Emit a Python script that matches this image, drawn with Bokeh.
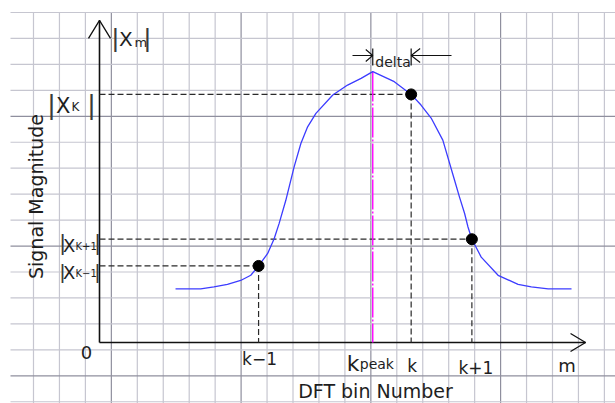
import numpy as np
from bokeh.plotting import figure
from bokeh.models import Range1d
from bokeh.core.properties import value
from bokeh.embed import file_html
from bokeh.resources import INLINE

# ---------------- data (grid units, origin at the axes corner) ----------------
curve_x = [2.93, 3.90, 4.41, 4.93, 5.44, 5.83, 6.13, 6.48, 6.73, 6.92, 7.18, 7.50,
           7.76, 8.02, 8.34, 8.99, 9.56, 10.08, 10.53, 11.36, 12.01, 12.39, 12.78,
           13.23, 13.68, 13.87, 14.07, 14.20, 14.35, 14.71, 15.36, 16.13, 16.64,
           17.29, 18.19]
curve_y = [2.07, 2.07, 2.14, 2.24, 2.39, 2.59, 2.95, 3.43, 4.00, 4.58, 5.48, 6.77,
           7.67, 8.31, 8.83, 9.54, 9.92, 10.18, 10.44, 10.05, 9.56, 9.15, 8.65,
           7.80, 6.26, 5.61, 4.97, 4.45, 3.98, 3.29, 2.59, 2.24, 2.14, 2.07, 2.07]
sample_x = [6.13, 12.01, 14.35]          # k-1, k, k+1
sample_y = [2.95, 9.56, 3.98]
sample_labels = ["k\u22121", "k", "k+1"]
kpeak_x = 10.53
peak_y = 10.44
x_axis_end = 18.73
y_axis_end = 12.41

# ---------------- layout helpers (reference pixel -> data units) ----------------
W, H = 615, 403
G = 25.95          # pixels per grid unit
OX, OY = 99.0, 342.0
def u(px): return (px - OX) / G
def v(py): return (OY - py) / G
def dx(px): return px / G

FONT = "DejaVu Sans"
TXT = "#1e1e1e"

p = figure(width=W, height=H, x_range=Range1d(u(0), u(W)), y_range=Range1d(v(H), v(0)),
           output_backend="svg", toolbar_location=None, x_axis_type=None, y_axis_type=None,
           min_border=0, background_fill_color="white", border_fill_color="white")
p.grid.visible = False
p.outline_line_color = None

# ---------------- grid paper ----------------
gx = [u(33 + G * i) for i in range(0, 23)]
gy = [v(12 + G * j) for j in range(0, 16)]
gx_col = ["#8f8f9e" if (i - 3) % 5 == 0 else "#c6c6d0" for i in range(0, 23)]
gy_col = ["#8f8f9e" if (j - 4) % 5 == 0 else "#c6c6d0" for j in range(0, 16)]
p.segment(x0=gx, y0=[v(12)] * len(gx), x1=gx, y1=[v(H + 5)] * len(gx), line_color=gx_col, line_width=1.2)
p.segment(x0=[u(10)] * len(gy), y0=gy, x1=[u(W + 5)] * len(gy), y1=gy, line_color=gy_col, line_width=1.2)

# ---------------- axes with open arrowheads ----------------
p.line([0, 0], [0, y_axis_end], line_color="#111111", line_width=1.6)
p.line([0, x_axis_end], [0, 0], line_color="#111111", line_width=1.6)
p.line([-dx(11), 0, dx(11)], [y_axis_end - dx(18), y_axis_end, y_axis_end - dx(18)],
       line_color="#111111", line_width=1.3)
p.line([x_axis_end - dx(15), x_axis_end, x_axis_end - dx(15)], [dx(9), 0, -dx(9)],
       line_color="#111111", line_width=1.3)

# ---------------- dashed projection lines ----------------
for sx, sy in zip(sample_x, sample_y):
    p.line([0, sx], [sy, sy], line_color="#2a2a2a", line_width=1.2, line_dash="6 3")
    p.line([sx, sx], [sy, 0], line_color="#2a2a2a", line_width=1.2, line_dash="6 3")

# ---------------- peak line ----------------
p.line([kpeak_x, kpeak_x], [peak_y, 0], line_color="#ff00ff", line_width=1.4, line_dash="30 2 2 2")

# ---------------- spectrum curve + samples ----------------
p.line(curve_x, curve_y, line_color="#3c3cff", line_width=1.3)
p.scatter(sample_x, sample_y, size=11, fill_color="black", line_color="black")

# ---------------- delta dimension ----------------
ext_lo, ext_hi, dim_y = v(65), v(48), v(55)
for xx in (kpeak_x, sample_x[1]):
    p.line([xx, xx], [ext_lo, ext_hi], line_color="#111111", line_width=1.2)
p.line([u(352), kpeak_x], [dim_y, dim_y], line_color="#111111", line_width=1.1)
p.line([kpeak_x - dx(7), kpeak_x, kpeak_x - dx(7)], [dim_y + dx(6), dim_y, dim_y - dx(6)],
       line_color="#111111", line_width=1.1)
p.line([sample_x[1], u(451)], [dim_y, dim_y], line_color="#111111", line_width=1.1)
p.line([sample_x[1] + dx(9), sample_x[1], sample_x[1] + dx(9)], [dim_y + dx(7), dim_y, dim_y - dx(7)],
       line_color="#111111", line_width=1.1)

# ---------------- texts ----------------
def txt(x, y, s, size, align="left", baseline="alphabetic", angle=0.0, font=FONT, color=TXT):
    p.text(x=[x], y=[y], text=[s], text_font=value(font), text_font_size=f"{size}px",
           text_align=align, text_baseline=baseline, angle=angle, text_color=color)

def absval(bar_l, bar_r, bar_top, bar_bot, x_left, x_base, x_size, sub, sub_left, sub_base, sub_size):
    bsize = bar_bot - bar_top
    base = bar_bot - 0.21 * bsize
    txt(u(bar_l), v(base), "|", bsize, align="center", font="Liberation Sans", color="#3a3a3a")
    txt(u(bar_r), v(base), "|", bsize, align="center", font="Liberation Sans", color="#3a3a3a")
    txt(u(x_left), v(x_base), "X", x_size)
    txt(u(sub_left), v(sub_base), sub, sub_size)

absval(115, 147, 17, 43, 118.5, 38, 20, "m", 134, 42, 13)
absval(51, 91, 83, 110, 55.5, 105, 21, "K", 71, 106, 12)
absval(62, 97, 225, 247, 62.5, 245, 18, "K+1", 75, 246, 10)
absval(62, 97, 254, 275, 62.5, 272, 18, "K\u22121", 75, 273, 10)

txt(u(86), v(352), "0", 18, align="center")
label_base = [358, 365, 367]
label_dx = [1, 1, 4]
for sx, lab, b, o in zip(sample_x, sample_labels, label_base, label_dx):
    p.text(x=[sx], y=[v(b)], text=[lab], x_offset=o, text_font=value(FONT), text_font_size="17px",
           text_align="center", text_baseline="alphabetic", text_color=TXT)
txt(u(566.5), v(365), "m", 18, align="center")
txt(kpeak_x - dx(26), v(363), "k", 22)
txt(kpeak_x - dx(13), v(363), "peak", 14)
txt(u(375), v(390), "DFT bin Number", 19, align="center")
txt(u(392.5), v(61), "delta", 14, align="center")
txt(u(35), v(196), "Signal Magnitude", 19, align="center", angle=np.pi / 2)

open("out.html", "w").write(file_html(p, INLINE))
